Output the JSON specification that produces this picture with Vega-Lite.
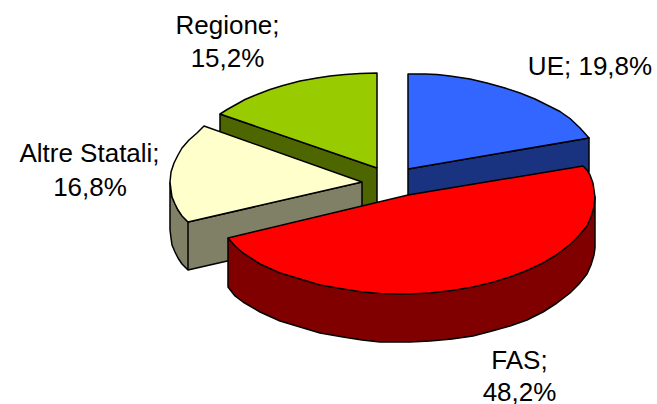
{
"$schema":"https://vega.github.io/schema/vega-lite/v6.json",
"width":657,"height":404,"padding":0,
"autosize":{"type":"none"},
"background":"white",
"config":{"view":{"stroke":null}},
"layer":[
{"data":{"values":[
{"part":"Regione side","i":1,"x":220,"y":114},{"part":"Regione side","i":2,"x":377,"y":168},{"part":"Regione side","i":3,"x":377,"y":215},{"part":"Regione side","i":4,"x":220,"y":160},{"part":"Regione side","i":5,"x":220,"y":114},
{"part":"Regione top","i":1,"x":377,"y":168},{"part":"Regione top","i":2,"x":377,"y":73},{"part":"Regione top","i":3,"x":360,"y":73.5},{"part":"Regione top","i":4,"x":345,"y":74.5},{"part":"Regione top","i":5,"x":330,"y":76},{"part":"Regione top","i":6,"x":317,"y":78},{"part":"Regione top","i":7,"x":300,"y":81},{"part":"Regione top","i":8,"x":283,"y":85.5},{"part":"Regione top","i":9,"x":270,"y":89.5},{"part":"Regione top","i":10,"x":257,"y":94.5},{"part":"Regione top","i":11,"x":245,"y":99.5},{"part":"Regione top","i":12,"x":237,"y":104},{"part":"Regione top","i":13,"x":228,"y":109},{"part":"Regione top","i":14,"x":220,"y":114},{"part":"Regione top","i":15,"x":377,"y":168},
{"part":"Altre Statali side","i":1,"x":170,"y":182},{"part":"Altre Statali side","i":2,"x":172,"y":197},{"part":"Altre Statali side","i":3,"x":178,"y":210},{"part":"Altre Statali side","i":4,"x":188,"y":222},{"part":"Altre Statali side","i":5,"x":362,"y":182},{"part":"Altre Statali side","i":6,"x":362,"y":230},{"part":"Altre Statali side","i":7,"x":188,"y":270},{"part":"Altre Statali side","i":8,"x":182,"y":264},{"part":"Altre Statali side","i":9,"x":178,"y":258},{"part":"Altre Statali side","i":10,"x":175,"y":252},{"part":"Altre Statali side","i":11,"x":172,"y":245},{"part":"Altre Statali side","i":12,"x":171,"y":238},{"part":"Altre Statali side","i":13,"x":170,"y":230},{"part":"Altre Statali side","i":14,"x":170,"y":182},
{"part":"Altre Statali front","i":1,"x":188,"y":222},{"part":"Altre Statali front","i":2,"x":188,"y":270},
{"part":"Altre Statali top","i":1,"x":362,"y":182},{"part":"Altre Statali top","i":2,"x":204,"y":126},{"part":"Altre Statali top","i":3,"x":197,"y":133},{"part":"Altre Statali top","i":4,"x":189,"y":140},{"part":"Altre Statali top","i":5,"x":182,"y":148},{"part":"Altre Statali top","i":6,"x":178,"y":155},{"part":"Altre Statali top","i":7,"x":174,"y":163},{"part":"Altre Statali top","i":8,"x":171,"y":172},{"part":"Altre Statali top","i":9,"x":170,"y":182},{"part":"Altre Statali top","i":10,"x":171,"y":190},{"part":"Altre Statali top","i":11,"x":172,"y":197},{"part":"Altre Statali top","i":12,"x":175,"y":204},{"part":"Altre Statali top","i":13,"x":178,"y":210},{"part":"Altre Statali top","i":14,"x":182,"y":216},{"part":"Altre Statali top","i":15,"x":188,"y":222},{"part":"Altre Statali top","i":16,"x":362,"y":182},
{"part":"UE side","i":1,"x":408,"y":169},{"part":"UE side","i":2,"x":589,"y":138},{"part":"UE side","i":3,"x":589,"y":172},{"part":"UE side","i":4,"x":408,"y":205},{"part":"UE side","i":5,"x":408,"y":169},
{"part":"UE top","i":1,"x":408,"y":169},{"part":"UE top","i":2,"x":408,"y":74},{"part":"UE top","i":3,"x":425,"y":74},{"part":"UE top","i":4,"x":437,"y":74.5},{"part":"UE top","i":5,"x":450,"y":76},{"part":"UE top","i":6,"x":470,"y":79},{"part":"UE top","i":7,"x":487,"y":83},{"part":"UE top","i":8,"x":505,"y":88},{"part":"UE top","i":9,"x":520,"y":93},{"part":"UE top","i":10,"x":535,"y":99},{"part":"UE top","i":11,"x":547,"y":105},{"part":"UE top","i":12,"x":560,"y":111.5},{"part":"UE top","i":13,"x":570,"y":118.5},{"part":"UE top","i":14,"x":580,"y":128},{"part":"UE top","i":15,"x":589,"y":138},{"part":"UE top","i":16,"x":408,"y":169},
{"part":"FAS side","i":1,"x":228,"y":238},{"part":"FAS side","i":2,"x":300,"y":279},{"part":"FAS side","i":3,"x":400,"y":294},{"part":"FAS side","i":4,"x":510,"y":277},{"part":"FAS side","i":5,"x":595,"y":197},{"part":"FAS side","i":6,"x":595,"y":248},{"part":"FAS side","i":7,"x":594,"y":255},{"part":"FAS side","i":8,"x":591,"y":265},{"part":"FAS side","i":9,"x":587,"y":274},{"part":"FAS side","i":10,"x":579,"y":284},{"part":"FAS side","i":11,"x":570,"y":293},{"part":"FAS side","i":12,"x":557,"y":303},{"part":"FAS side","i":13,"x":543,"y":312},{"part":"FAS side","i":14,"x":527,"y":320},{"part":"FAS side","i":15,"x":510,"y":326},{"part":"FAS side","i":16,"x":492,"y":331},{"part":"FAS side","i":17,"x":473,"y":336},{"part":"FAS side","i":18,"x":452,"y":339},{"part":"FAS side","i":19,"x":430,"y":341},{"part":"FAS side","i":20,"x":410,"y":342},{"part":"FAS side","i":21,"x":400,"y":342},{"part":"FAS side","i":22,"x":380,"y":342},{"part":"FAS side","i":23,"x":362,"y":340},{"part":"FAS side","i":24,"x":343,"y":337},{"part":"FAS side","i":25,"x":320,"y":333},{"part":"FAS side","i":26,"x":300,"y":327},{"part":"FAS side","i":27,"x":280,"y":321},{"part":"FAS side","i":28,"x":260,"y":312},{"part":"FAS side","i":29,"x":243,"y":302},{"part":"FAS side","i":30,"x":235,"y":296},{"part":"FAS side","i":31,"x":228,"y":287},{"part":"FAS side","i":32,"x":228,"y":238},
{"part":"FAS top","i":1,"x":408,"y":195},{"part":"FAS top","i":2,"x":583,"y":166},{"part":"FAS top","i":3,"x":587,"y":170},{"part":"FAS top","i":4,"x":590,"y":175},{"part":"FAS top","i":5,"x":593,"y":183},{"part":"FAS top","i":6,"x":595,"y":197},{"part":"FAS top","i":7,"x":594,"y":207},{"part":"FAS top","i":8,"x":591,"y":217},{"part":"FAS top","i":9,"x":587,"y":226},{"part":"FAS top","i":10,"x":579,"y":235.5},{"part":"FAS top","i":11,"x":570,"y":244.5},{"part":"FAS top","i":12,"x":557,"y":254.5},{"part":"FAS top","i":13,"x":543,"y":263},{"part":"FAS top","i":14,"x":527,"y":270.5},{"part":"FAS top","i":15,"x":510,"y":277},{"part":"FAS top","i":16,"x":492,"y":282.5},{"part":"FAS top","i":17,"x":473,"y":287},{"part":"FAS top","i":18,"x":452,"y":290.5},{"part":"FAS top","i":19,"x":430,"y":293},{"part":"FAS top","i":20,"x":410,"y":294},{"part":"FAS top","i":21,"x":400,"y":294},{"part":"FAS top","i":22,"x":380,"y":293.5},{"part":"FAS top","i":23,"x":362,"y":292},{"part":"FAS top","i":24,"x":343,"y":289},{"part":"FAS top","i":25,"x":320,"y":285},{"part":"FAS top","i":26,"x":300,"y":279},{"part":"FAS top","i":27,"x":280,"y":273},{"part":"FAS top","i":28,"x":260,"y":264},{"part":"FAS top","i":29,"x":243,"y":253},{"part":"FAS top","i":30,"x":235,"y":246},{"part":"FAS top","i":31,"x":228,"y":238},{"part":"FAS top","i":32,"x":408,"y":195}
]},
"mark":{"type":"line","filled":true,"stroke":"black","strokeWidth":1.5,"strokeJoin":"round","clip":false},
"encoding":{
"x":{"field":"x","type":"quantitative","scale":{"domain":[0,657],"nice":false,"zero":false},"axis":null},
"y":{"field":"y","type":"quantitative","scale":{"domain":[404,0],"nice":false,"zero":false},"axis":null},
"order":{"field":"i","type":"quantitative"},
"color":{"field":"part","type":"nominal","legend":null,"scale":{
"domain":["Regione side","Regione top","Altre Statali side","Altre Statali front","Altre Statali top","UE side","UE top","FAS side","FAS top"],
"range":["#4d6600","#99cc00","#808066","#808066","#ffffcc","#1a3380","#3366ff","#800000","#ff0000"]}}
}},
{"data":{"values":[
{"t":"Regione;","x":227.5,"y":25.5},{"t":"15,2%","x":227.5,"y":58.5},
{"t":"UE; 19,8%","x":590,"y":67},
{"t":"Altre Statali;","x":89.5,"y":153.5},{"t":"16,8%","x":90,"y":187.5},
{"t":"FAS;","x":519.5,"y":360.5},{"t":"48,2%","x":519.5,"y":392.5}
]},
"mark":{"type":"text","font":"Liberation Sans","fontSize":26,"align":"center","baseline":"middle","color":"#000000"},
"encoding":{
"x":{"field":"x","type":"quantitative","scale":{"domain":[0,657],"nice":false,"zero":false},"axis":null},
"y":{"field":"y","type":"quantitative","scale":{"domain":[404,0],"nice":false,"zero":false},"axis":null},
"text":{"field":"t","type":"nominal"}
}}
]}
